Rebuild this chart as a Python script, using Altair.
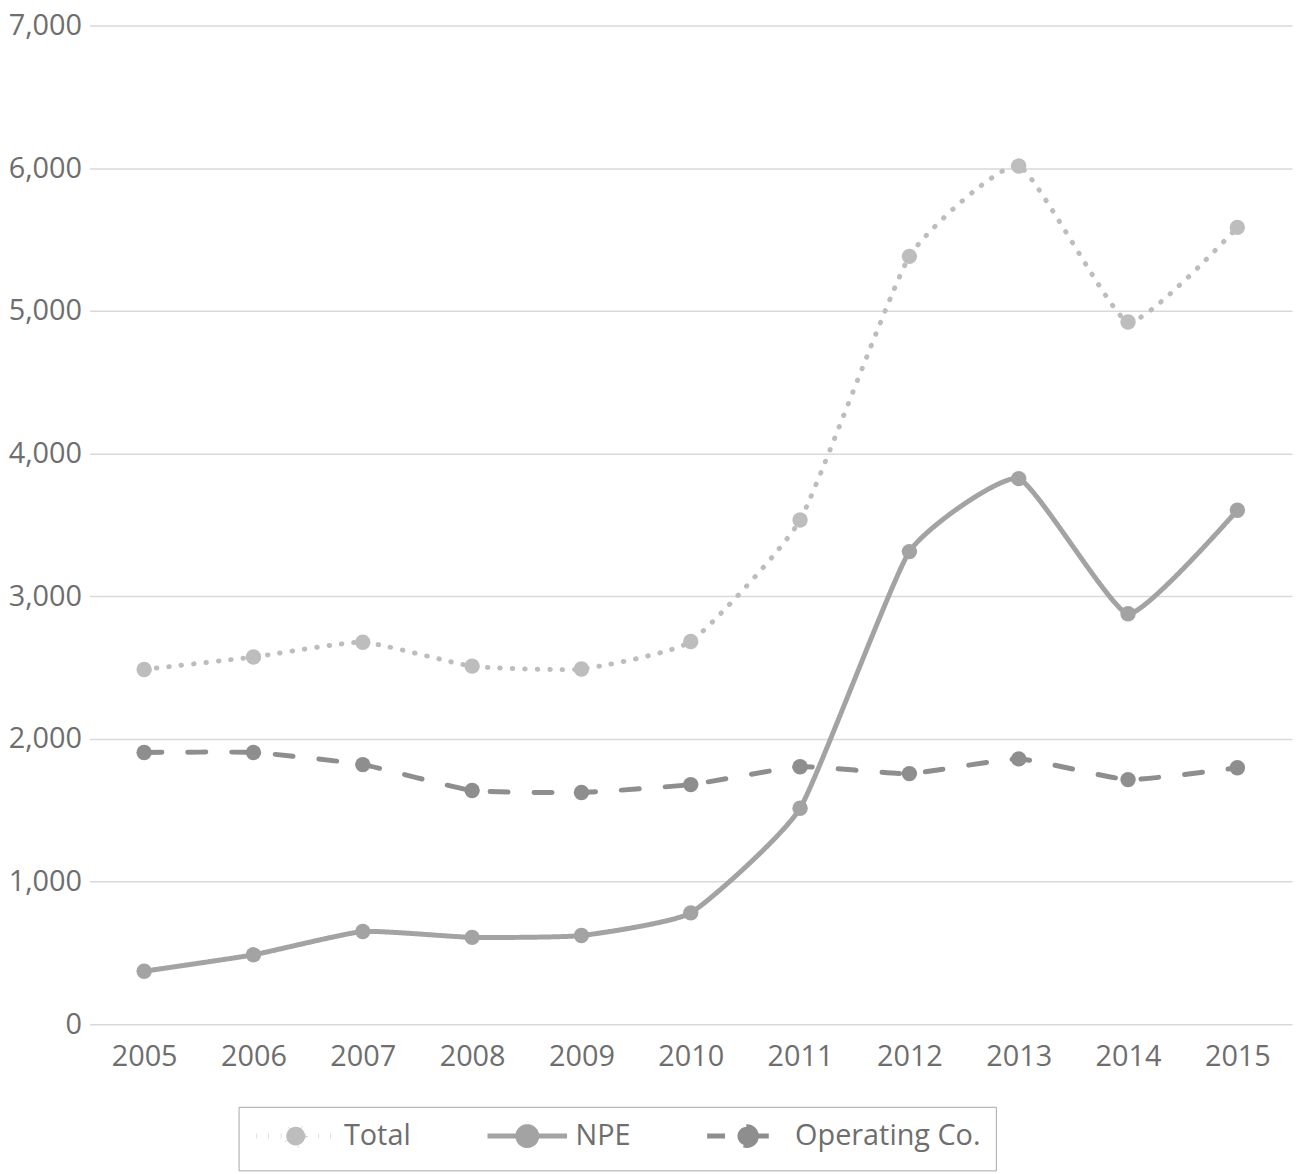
import altair as alt
import pandas as pd

years = ["2005", "2006", "2007", "2008", "2009", "2010", "2011", "2012", "2013", "2014", "2015"]
series_names = ["Total", "NPE", "Operating Co."]
total = [2487, 2574, 2678, 2510, 2490, 2683, 3534, 5382, 6015, 4922, 5585]
npe = [372, 487, 650, 609, 622, 781, 1514, 3313, 3824, 2877, 3603]
operating = [1905, 1905, 1820, 1639, 1625, 1680, 1805, 1757, 1860, 1715, 1798]
y_ticks = [0, 1000, 2000, 3000, 4000, 5000, 6000, 7000]

colors = ["#bdbdbd", "#a3a3a3", "#8e8e8e"]
dashes = [[0.5, 12], [1, 0], [18, 26]]

rows = []
for name, vals in zip(series_names, [total, npe, operating]):
    for yr, v in zip(years, vals):
        rows.append({"year": yr, "series": name, "value": v})
df = pd.DataFrame(rows)

FONT = "Open Sans"
LABEL = "#6e6e6e"
FS = 29

sym_path = "M-4,0H4M0.95,0A0.95,0.95,0,1,1,-0.95,0A0.95,0.95,0,1,1,0.95,0Z"

legend = alt.Legend(
    title=None,
    orient="none",
    legendX=150,
    legendY=1088,
    direction="horizontal",
    symbolType=sym_path,
    symbolSize=400,
    symbolStrokeWidth=5,
    symbolOffset=28,
    labelOffset=34,
    labelLimit=400,
    columnPadding=66,
    padding=15,
    strokeColor="#a6a6a6",
    labelFont=FONT,
    labelFontSize=FS,
    labelColor=LABEL,
)

x_enc = alt.X("year:O", sort=years, title=None,
              axis=alt.Axis(labelAngle=0, ticks=False, domain=False, grid=False,
                            labelFont=FONT, labelFontSize=FS, labelColor=LABEL,
                            labelPadding=18))
y_enc = alt.Y("value:Q", title=None, scale=alt.Scale(domain=[0, 7000]),
              axis=alt.Axis(values=y_ticks, format=",.0f", ticks=False, domain=False,
                            gridColor="#d9d9d9", gridWidth=1.5,
                            labelFont=FONT, labelFontSize=FS, labelColor=LABEL,
                            labelPadding=8))

base = alt.Chart(df)

lines = base.mark_line(interpolate="cardinal", tension=0.55, strokeWidth=5, strokeCap="round").encode(
    x=x_enc,
    y=y_enc,
    color=alt.Color("series:N", scale=alt.Scale(domain=series_names, range=colors),
                    sort=series_names, legend=legend),
    strokeDash=alt.StrokeDash("series:N", scale=alt.Scale(domain=series_names, range=dashes),
                              sort=series_names, legend=legend),
)

points = base.mark_circle(size=240, opacity=1).encode(
    x=x_enc,
    y=y_enc,
    fill=alt.Fill("series:N", scale=alt.Scale(domain=series_names, range=colors),
                  sort=series_names, legend=legend),
)

chart = alt.layer(lines, points).properties(
    width=1210,
    height=1005,
    background="white",
    autosize=alt.AutoSizeParams(type="none"),
    padding={"left": 82, "top": 14, "right": 3, "bottom": 145},
).configure_view(stroke=None)

chart.save("out.html", embed_options={"renderer": "svg", "actions": False})
